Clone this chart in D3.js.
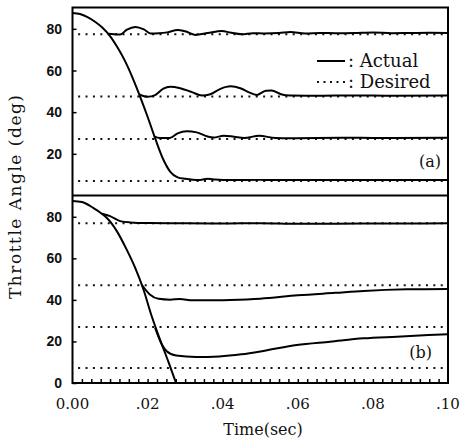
<!DOCTYPE html>
<html><head><meta charset="utf-8">
<script src="https://cdn.jsdelivr.net/npm/d3@7"></script>
<style>body{margin:0;background:#fff}svg{display:block}</style>
</head><body>
<svg id="c" width="460" height="446"></svg>
<script>
// ---- data (time in s, throttle angle in deg) ----
const xTicks = [0, 0.02, 0.04, 0.06, 0.08, 0.10];
const xTickLabels = ["0.00", ".02", ".04", ".06", ".08", ".10"];
const yTicksA = [20, 40, 60, 80];
const yTicksB = [0, 20, 40, 60, 80];
const desiredA = [77.4, 47.5, 27.1, 7.0];
const desiredB = [76.9, 47.1, 26.9, 7.2];

// panel (a) actual responses
const a7 = [[0,87.6],[.002,87.1],[.004,85.6],[.006,83.4],[.008,80.5],[.010,76.5],[.012,71],[.014,64.5],[.016,56.5],[.018,47.5],[.020,37.8],[.022,27.5],[.024,18],[.026,11.5],[.028,8.7],[.030,8],[.032,7.6],[.034,7.5],[.036,8],[.038,7.7],[.042,7.4],[.05,7.5],[.06,7.4],[.07,7.5],[.08,7.4],[.09,7.5],[.1,7.4]];
const a77 = [[.0095,77.6],[.011,77.4],[.0127,77.3],[.0145,79.6],[.0167,80.9],[.019,79.7],[.0208,77.8],[.023,77.9],[.0252,78.3],[.028,79.5],[.030,78.8],[.0327,77.1],[.036,78],[.0398,79],[.042,78.2],[.0451,77.4],[.048,77.9],[.051,77.8],[.055,78],[.058,78.5],[.062,77.8],[.066,78],[.070,77.9],[.075,78],[.080,78.3],[.085,77.9],[.090,78],[.095,78.1],[.100,78]];
const a47 = [[.0178,48.5],[.020,47.4],[.022,48.2],[.0242,51.3],[.026,52.2],[.0287,51.5],[.0318,49.6],[.0345,48],[.0367,48.6],[.0394,51.2],[.0421,52.4],[.0447,51.5],[.047,49.5],[.049,48.3],[.0515,50.3],[.053,50.4],[.0555,48.6],[.058,48],[.065,47.9],[.075,48],[.085,47.9],[.1,48]];
const a27 = [[.0217,28.4],[.0233,27.6],[.0259,27.6],[.028,29.8],[.0304,30.8],[.0331,30.3],[.0358,28.4],[.0376,27.8],[.0403,28.7],[.043,28.2],[.0457,27.6],[.0497,28.7],[.054,27.6],[.058,27.5],[.065,27.6],[.075,27.7],[.085,27.6],[.1,27.7]];

// panel (b) actual responses
const bFall = [[0,87.6],[.0025,87.1],[.0055,84.3],[.0078,81.5],[.0091,79.5],[.0118,73.1],[.0144,64.3],[.0167,55.4],[.0189,45],[.0211,32.1],[.0233,20.9],[.0255,10.4],[.0276,0],[.0285,-4]];
const b77 = [[.0078,81.5],[.010,80.3],[.0127,77.9],[.0153,77.3],[.02,77],[.03,76.9],[.04,76.8],[.05,76.9],[.06,76.6],[.07,76.7],[.08,76.8],[.09,76.8],[.1,76.9]];
const b47 = [[.0184,47.4],[.0206,42.6],[.0229,40.5],[.026,40.1],[.0286,40.4],[.032,39.8],[.036,39.8],[.042,40],[.05,40.6],[.06,42.2],[.07,43.4],[.0775,44.3],[.089,45.1],[.1,45.3]];
const b27 = [[.022,26.5],[.0238,18.5],[.0251,15.3],[.0276,13.2],[.0329,12.5],[.0391,12.8],[.045,13.8],[.0508,15.4],[.0597,18.3],[.0686,19.9],[.0775,21.5],[.0864,22.3],[.1,23.5]];

const seriesA = [a7, a77, a47, a27];
const seriesB = [bFall, b77, b47, b27];

// ---- layout ----
const svg = d3.select("#c");
const L = 72.5, R = 448, TA = 7.5, MID = 195.5, BB = 383;
const x = d3.scaleLinear().domain([0, 0.1]).range([L, R]);
const yA = d3.scaleLinear().domain([0, 90]).range([MID, TA + 0.5]);
const yB = d3.scaleLinear().domain([0, 90]).range([BB, MID + 0.5]);
const serif = "'DejaVu Serif', serif";
const sans = "'Liberation Sans', Arial, sans-serif";

const defs = svg.append("defs");
defs.append("clipPath").attr("id","clipA").append("rect").attr("x",L).attr("y",TA).attr("width",R-L).attr("height",MID-TA);
defs.append("clipPath").attr("id","clipB").append("rect").attr("x",L).attr("y",MID).attr("width",R-L).attr("height",BB-MID);

function panel(y, desired, series, clip){
  const g = svg.append("g").attr("clip-path", `url(#${clip})`);
  g.selectAll("line.des").data(desired).enter().append("line")
    .attr("x1", x(0.0015)).attr("x2", x(0.1)).attr("y1", d=>y(d)).attr("y2", d=>y(d))
    .attr("stroke","#111").attr("stroke-width",2).attr("stroke-dasharray","2,5.4");
  const line = d3.line().x(d=>x(d[0])).y(d=>y(d[1])).curve(d3.curveMonotoneX);
  g.selectAll("path.act").data(series).enter().append("path")
    .attr("d", line).attr("fill","none").attr("stroke","#000").attr("stroke-width",2);
}
panel(yA, desiredA, seriesA, "clipA");
panel(yB, desiredB, seriesB, "clipB");

// frame
svg.append("rect").attr("x",L).attr("y",TA).attr("width",R-L).attr("height",BB-TA)
  .attr("fill","none").attr("stroke","#000").attr("stroke-width",2);
svg.append("line").attr("x1",L).attr("x2",R).attr("y1",MID).attr("y2",MID)
  .attr("stroke","#000").attr("stroke-width",2);

// y axes (inward ticks)
function yAxis(y, ticks){
  const ax = d3.axisRight(y).tickValues(ticks).tickSize(4).tickFormat("");
  const g = svg.append("g").attr("transform",`translate(${L},0)`).call(ax);
  g.select(".domain").remove();
  g.selectAll("line").attr("stroke","#000").attr("stroke-width",1.5);
  svg.append("g").selectAll("text").data(ticks).enter().append("text")
    .attr("x", 62).attr("y", d=>y(d)).attr("dy","0.36em").attr("text-anchor","end")
    .attr("font-family", sans).attr("font-weight","bold").attr("font-size",14).attr("fill","#111")
    .text(d=>d);
}
yAxis(yA, yTicksA);
yAxis(yB, yTicksB);

// x axis: inward minor ticks and labels
const minor = d3.range(1, 40).map(i => i * 0.0025);
const gx = svg.append("g").attr("transform",`translate(0,${BB})`)
  .call(d3.axisTop(x).tickValues(minor).tickSize(4).tickFormat(""));
gx.select(".domain").remove();
gx.selectAll("line").attr("stroke","#000").attr("stroke-width",1.5);
svg.append("g").selectAll("text").data(xTicks).enter().append("text")
  .attr("x", d=>x(d)).attr("y", 409).attr("text-anchor","middle")
  .attr("font-family", serif).attr("font-size",15).attr("fill","#111")
  .text((d,i)=>xTickLabels[i]);

// axis titles
svg.append("text").attr("x",263).attr("y",435).attr("text-anchor","middle")
  .attr("font-family", serif).attr("font-size",16).attr("fill","#111").text("Time(sec)");
svg.append("text").attr("transform","translate(21,197) rotate(-90)").attr("text-anchor","middle")
  .attr("font-family", serif).attr("font-size",17).attr("fill","#111")
  .attr("textLength",204).attr("lengthAdjust","spacing").text("Throttle Angle (deg)");

// legend
svg.append("line").attr("x1",317).attr("x2",345).attr("y1",61).attr("y2",61)
  .attr("stroke","#000").attr("stroke-width",2);
svg.append("line").attr("x1",317).attr("x2",347).attr("y1",82).attr("y2",82)
  .attr("stroke","#111").attr("stroke-width",2).attr("stroke-dasharray","2,4.5");
svg.append("text").attr("x",348).attr("y",67).attr("font-family",serif).attr("font-size",18)
  .attr("fill","#111").text(": Actual");
svg.append("text").attr("x",348).attr("y",88).attr("font-family",serif).attr("font-size",18)
  .attr("fill","#111").text(": Desired");

// panel labels
svg.append("text").attr("x",441).attr("y",167).attr("text-anchor","end").attr("font-family",serif)
  .attr("font-size",16).attr("fill","#111").text("(a)");
svg.append("text").attr("x",432).attr("y",358).attr("text-anchor","end").attr("font-family",serif)
  .attr("font-size",16).attr("fill","#111").text("(b)");
</script>
</body></html>
